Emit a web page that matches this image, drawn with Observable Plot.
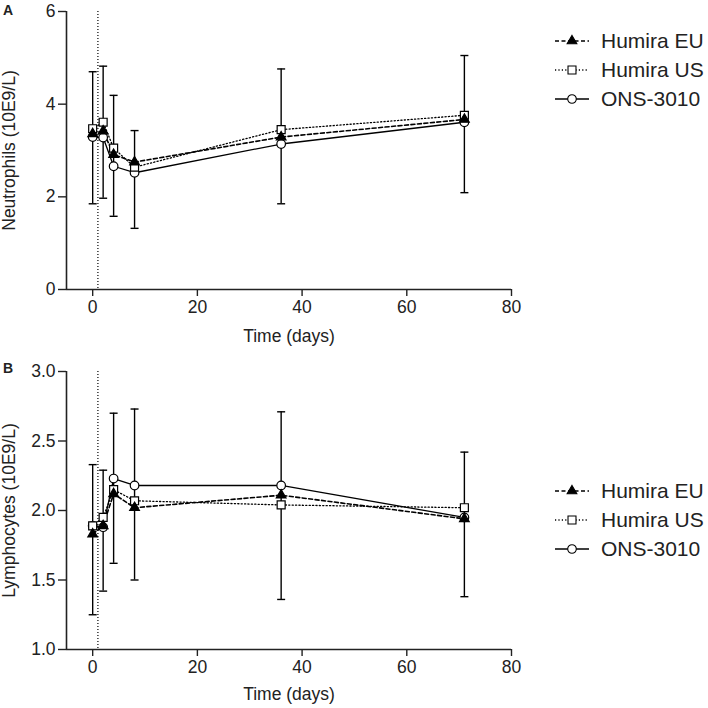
<!DOCTYPE html>
<html>
<head>
<meta charset="utf-8">
<script src="https://cdn.jsdelivr.net/npm/d3@7"></script>
<script src="https://cdn.jsdelivr.net/npm/@observablehq/plot@0.6"></script>
<style>
  html, body { margin: 0; padding: 0; background: white; }
  #wrap { position: relative; width: 708px; height: 708px; font-family: "Liberation Sans", Arial, sans-serif; color: #222; }
  .panel { position: absolute; left: 0; width: 540px; height: 354px; }
  .plabel { position: absolute; font-weight: bold; font-size: 14px; z-index: 5; }
  .legend { position: absolute; left: 553px; }
  .item { display: flex; align-items: center; height: 29px; font-size: 21px; }
  .item svg { margin-right: 10px; }
</style>
</head>
<body>
<div id="wrap">
  <div class="panel" id="pa" style="top:0px;"></div>
  <div class="panel" id="pb" style="top:354px;"></div>
  <div class="plabel" style="left:3px; top:2px;">A</div>
  <div class="plabel" style="left:3px; top:360px;">B</div>
  <div class="legend" id="la" style="top:26px;"></div>
  <div class="legend" id="lb" style="top:476px;"></div>
</div>
<script>
// ---- data ----
const times = [0, 2, 4, 8, 36, 71];
const seriesNames = ["Humira EU", "Humira US", "ONS-3010"];
const xTicks = [0, 20, 40, 60, 80];

// Panel A: Neutrophils
const neutEU  = [3.36, 3.42, 2.91, 2.75, 3.29, 3.67];
const neutUS  = [3.47, 3.61, 3.05, 2.64, 3.45, 3.76];
const neutONS = [3.29, 3.28, 2.66, 2.52, 3.14, 3.61];
const neutLo  = [1.85, 1.97, 1.58, 1.32, 1.85, 2.09];
const neutHi  = [4.70, 4.82, 4.19, 3.43, 4.76, 5.05];
const neutTicks = [0, 2, 4, 6];

// Panel B: Lymphocytes
const lymEU  = [1.83, 1.89, 2.12, 2.02, 2.11, 1.94];
const lymUS  = [1.89, 1.95, 2.15, 2.07, 2.04, 2.02];
const lymONS = [1.89, 1.88, 2.23, 2.18, 2.18, 1.95];
const lymLo  = [1.25, 1.42, 1.62, 1.50, 1.36, 1.38];
const lymHi  = [2.33, 2.29, 2.70, 2.73, 2.71, 2.42];
const lymTicks = [1.0, 1.5, 2.0, 2.5, 3.0];

const doseDay = 1;

// ---- styles ----
const styleOf = {
  "Humira EU": {dash: "4,2.5", symbol: "triangle", fill: "black", r: 3.6, w: 1.6},
  "Humira US": {dash: "1.2,2.2", symbol: "square", fill: "white", r: 4.5, w: 1.3},
  "ONS-3010":  {dash: null, symbol: "circle", fill: "white", r: 4.3, w: 1.3}
};
const cap = { draw(ctx) { ctx.moveTo(-4, 0); ctx.lineTo(4, 0); } };

function panel({ylabel, eu, us, ons, lo, hi, yDomain, yTicks, yFormat, marginTop, marginBottom, xLabelOffset}) {
  const vals = {"Humira EU": eu, "Humira US": us, "ONS-3010": ons};
  const err = times.map((t, i) => ({t, lo: lo[i], hi: hi[i]}));
  const drawOrder = ["ONS-3010", "Humira US", "Humira EU"];
  const lineMarks = [];
  const dotMarks = [];
  for (const s of drawOrder) {
    const rows = times.map((t, i) => ({t, v: vals[s][i], s}));
    const st = styleOf[s];
    lineMarks.push(Plot.line(rows, {x: "t", y: "v", stroke: "black", strokeWidth: st.w, strokeDasharray: st.dash}));
    dotMarks.push(Plot.dot(rows, {x: "t", y: "v", symbol: st.symbol, r: st.r, fill: st.fill, stroke: "black", strokeWidth: 1.2}));
  }
  return Plot.plot({
    width: 540, height: 354,
    marginLeft: 66, marginRight: 29, marginTop, marginBottom,
    style: {fontFamily: "'Liberation Sans', Arial, sans-serif", fontSize: "17.5px", color: "#222", background: "white", overflow: "visible"},
    x: {domain: [-5, 80]},
    y: {domain: yDomain},
    marks: [
      Plot.axisX({ticks: xTicks, tickSize: 7, tickPadding: 4, label: "Time (days)", labelAnchor: "center", labelArrow: "none", labelOffset: xLabelOffset, fontSize: 17.5, strokeWidth: 1.4}),
      Plot.axisY({ticks: yTicks, tickFormat: yFormat, tickSize: 8, tickPadding: 3, label: ylabel, labelAnchor: "center", labelArrow: "none", labelOffset: 64, fontSize: 17.5, strokeWidth: 1.4}),
      Plot.ruleX([-5], {stroke: "#222", strokeWidth: 1.6}),
      Plot.ruleY([yDomain[0]], {stroke: "#222", strokeWidth: 1.6}),
      Plot.ruleX([doseDay], {stroke: "black", strokeDasharray: "1,2", strokeWidth: 1.2}),
      Plot.ruleX(err, {x: "t", y1: "lo", y2: "hi", stroke: "black", strokeWidth: 1.4}),
      Plot.dot(err, {x: "t", y: "lo", symbol: cap, stroke: "black", fill: "none", strokeWidth: 1.4}),
      Plot.dot(err, {x: "t", y: "hi", symbol: cap, stroke: "black", fill: "none", strokeWidth: 1.4}),
      ...lineMarks,
      ...dotMarks
    ]
  });
}

document.getElementById("pa").append(panel({
  ylabel: "Neutrophils (10E9/L)", eu: neutEU, us: neutUS, ons: neutONS, lo: neutLo, hi: neutHi,
  yDomain: [0, 6], yTicks: neutTicks, yFormat: d3.format("d"), marginTop: 11, marginBottom: 65, xLabelOffset: 52
}));
document.getElementById("pb").append(panel({
  ylabel: "Lymphocytes (10E9/L)", eu: lymEU, us: lymUS, ons: lymONS, lo: lymLo, hi: lymHi,
  yDomain: [1, 3], yTicks: lymTicks, yFormat: d3.format(".1f"), marginTop: 17, marginBottom: 59, xLabelOffset: 50
}));

function legend(el) {
  for (const s of seriesNames) {
    const st = styleOf[s];
    const item = document.createElement("div");
    item.className = "item";
    const ns = "http://www.w3.org/2000/svg";
    const svg = document.createElementNS(ns, "svg");
    svg.setAttribute("width", 38); svg.setAttribute("height", 16);
    const line = document.createElementNS(ns, "line");
    line.setAttribute("x1", 2); line.setAttribute("x2", 36); line.setAttribute("y1", 8); line.setAttribute("y2", 8);
    line.setAttribute("stroke", "black"); line.setAttribute("stroke-width", st.w);
    if (st.dash) line.setAttribute("stroke-dasharray", st.dash);
    svg.append(line);
    const p = document.createElementNS(ns, "path");
    const type = st.symbol === "triangle" ? d3.symbolTriangle : st.symbol === "square" ? d3.symbolSquare : d3.symbolCircle;
    p.setAttribute("d", d3.symbol(type, Math.PI * st.r * st.r)());
    p.setAttribute("transform", "translate(19,8)");
    p.setAttribute("fill", st.fill); p.setAttribute("stroke", "black"); p.setAttribute("stroke-width", 1.1);
    svg.append(p);
    item.append(svg);
    const span = document.createElement("span");
    span.textContent = s;
    item.append(span);
    el.append(item);
  }
}
legend(document.getElementById("la"));
legend(document.getElementById("lb"));
</script>
</body>
</html>
